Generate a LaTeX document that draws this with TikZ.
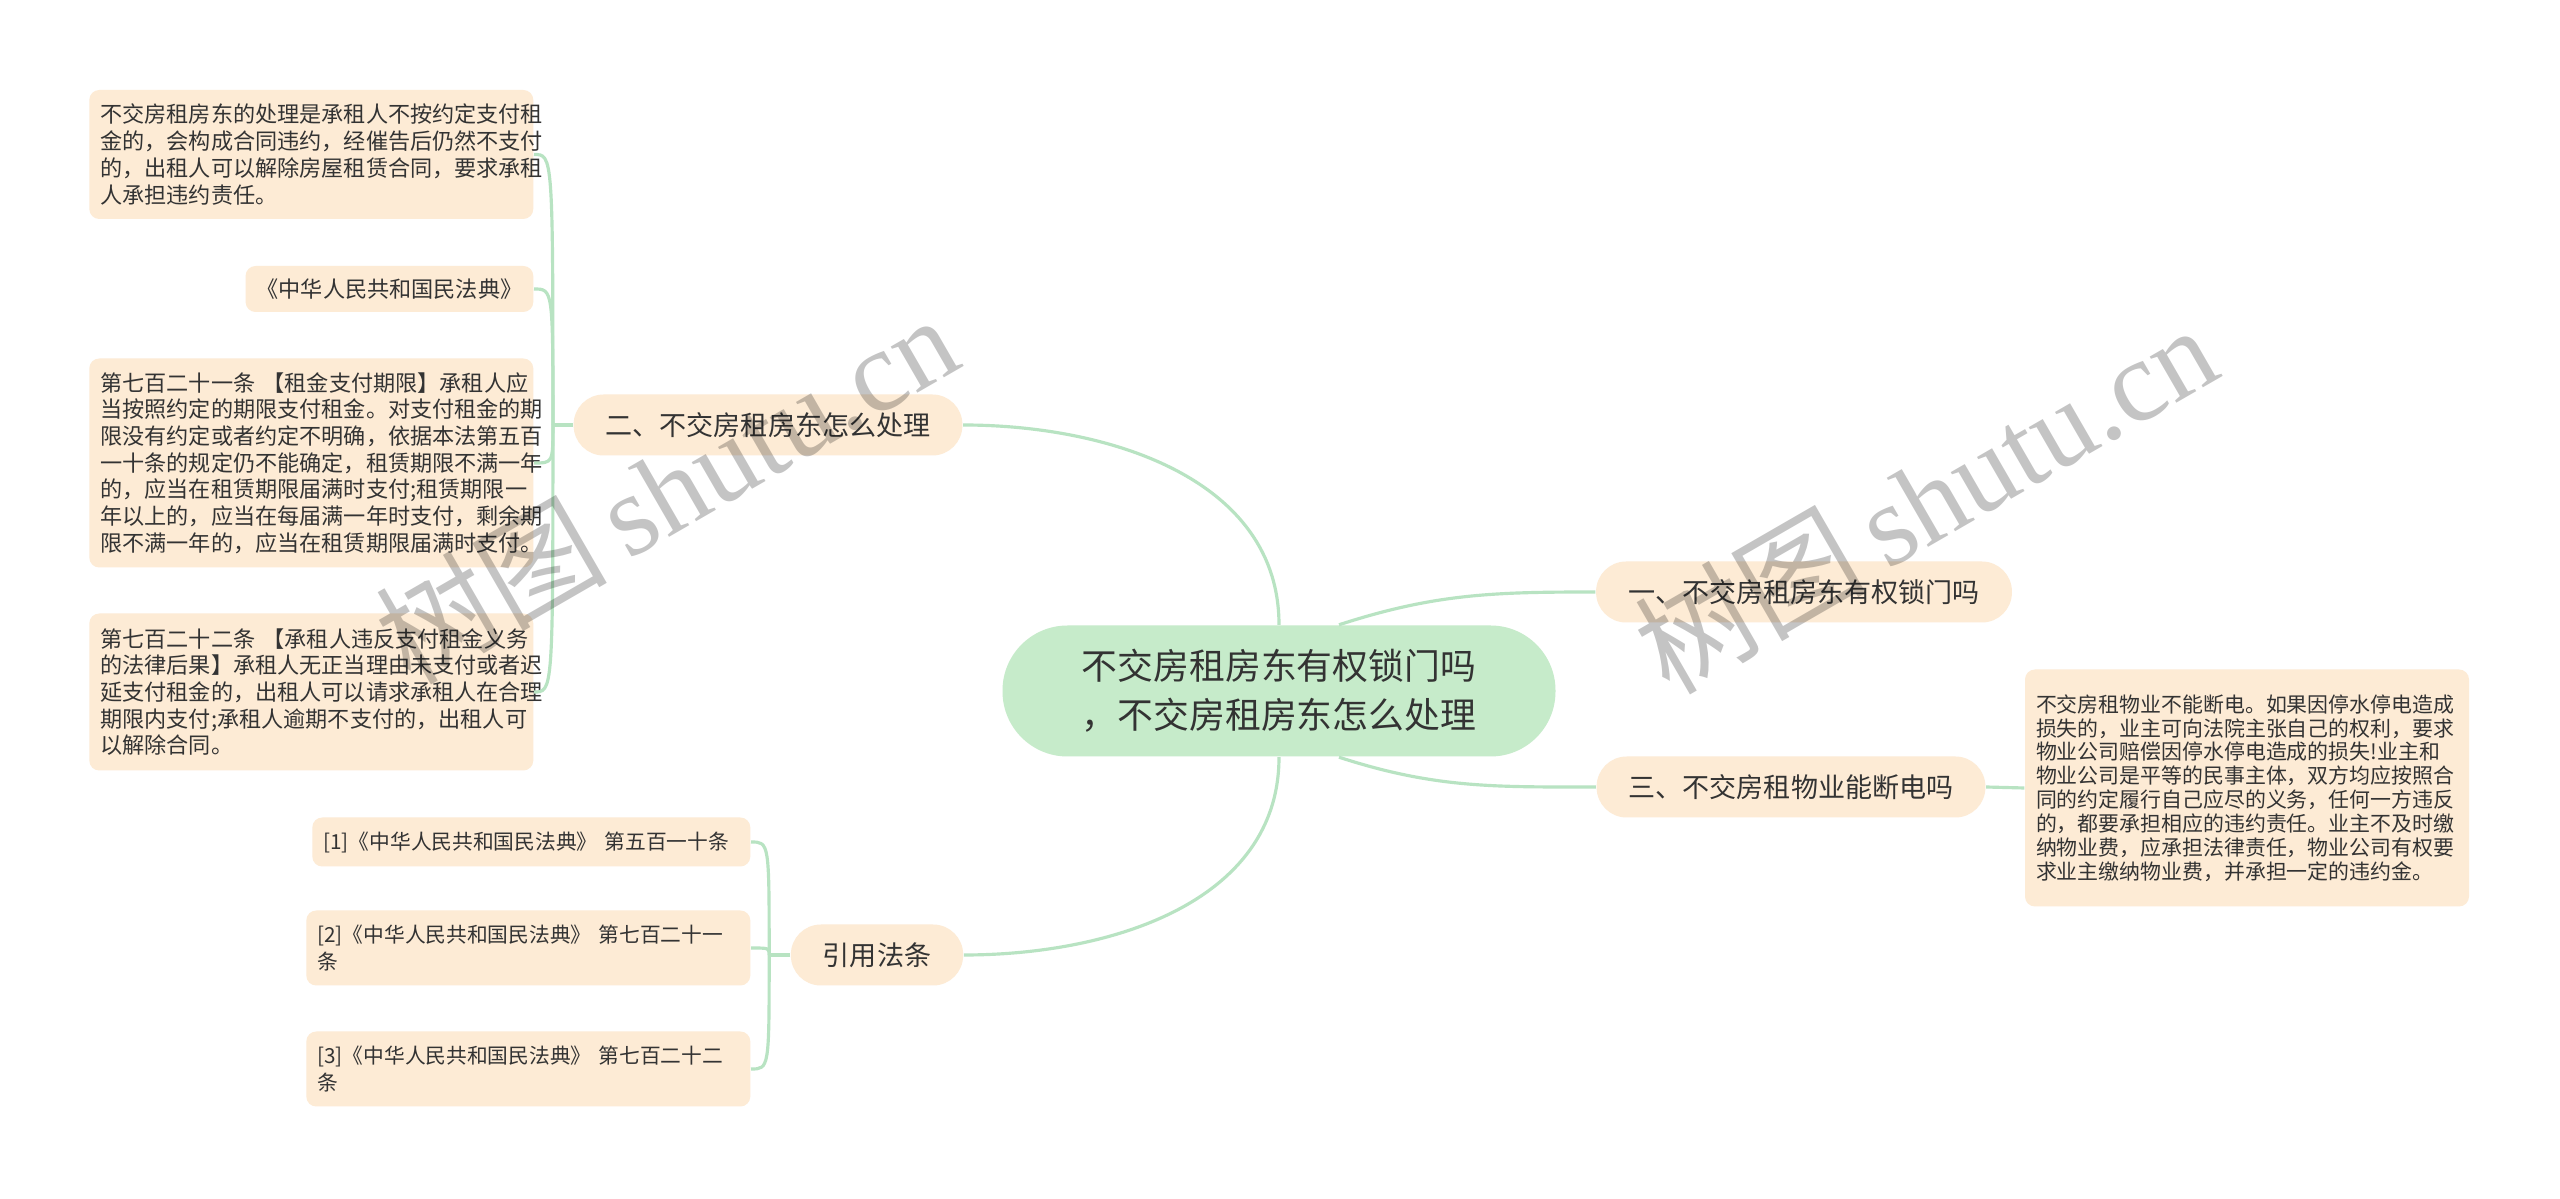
\documentclass[tikz,border=0pt]{standalone}
\usepackage{fontspec}
\setmainfont{Noto Sans CJK SC}
\newfontfamily\wmfont{Liberation Serif}
\usepackage{xcolor}
\usetikzlibrary{calc}

\definecolor{leafc}{HTML}{FDEBD5}
\definecolor{rootc}{HTML}{C6EBCA}
\definecolor{linkc}{HTML}{B8E3C2}
\definecolor{txtc}{HTML}{333333}
\newcommand{\rootfont}{\fontsize{10.2}{13.9}\selectfont}
\newcommand{\branchfont}{\fontsize{7.7}{9}\selectfont}
\newcommand{\leaffont}{\fontsize{6.3}{7.6}\selectfont}
\newcommand{\citefont}{\fontsize{5.9}{7.6}\selectfont}
\newcommand{\smallleaffont}{\fontsize{5.95}{6.8}\selectfont}

\begin{document}
\begin{tikzpicture}[
  every node/.style={text=txtc},
  root/.style={fill=rootc,rounded corners=0.65cm,minimum width=5.53cm,minimum height=1.31cm,align=center,font=\rootfont},
  branch/.style={fill=leafc,rounded corners=0.3cm,minimum height=0.61cm,inner xsep=0.32cm,font=\branchfont},
  leaf/.style={fill=leafc,rounded corners=0.1cm,inner xsep=0.11cm,inner ysep=0.06cm,align=left,text width=4.22cm,font=\leaffont},
  link/.style={draw=linkc,line width=0.9pt},
  mark text/.style={text=black,text opacity=0.23,font=\fontsize{33}{33}\selectfont,rotate=30}
]
  \fill[white] (0,0) rectangle (25.6,-11.99);
  \useasboundingbox (0,0) rectangle (25.6,-11.99);

  % centro e rami
  \node[root] (root) at (12.79,-6.91) {不交房租房东有权锁门吗\\，不交房租房东怎么处理};
  \node[branch] (b1) at (18.04,-5.92) {一、不交房租房东有权锁门吗};
  \node[branch] (b3) at (17.91,-7.87) {三、不交房租物业能断电吗};
  \node[branch] (b2) at (7.68,-4.25) {二、不交房租房东怎么处理};
  \node[branch] (b4) at (8.77,-9.55) {引用法条};

  % foglie a destra
  \node[leaf,font=\smallleaffont,minimum height=2.37cm] (r1) at (22.47,-7.88) {不交房租物业不能断电。如果因停水停电造成\\损失的，业主可向法院主张自己的权利，要求\\物业公司赔偿因停水停电造成的损失!业主和\\物业公司是平等的民事主体，双方均应按照合\\同的约定履行自己应尽的义务，任何一方违反\\的，都要承担相应的违约责任。业主不及时缴\\纳物业费，应承担法律责任，物业公司有权要\\求业主缴纳物业费，并承担一定的违约金。};

  % foglie a sinistra
  \node[leaf,anchor=east,minimum height=1.29cm] (l1) at (5.34,-1.545) {不交房租房东的处理是承租人不按约定支付租\\金的，会构成合同违约，经催告后仍然不支付\\的，出租人可以解除房屋租赁合同，要求承租\\人承担违约责任。};
  \node[leaf,anchor=east,text width=,minimum height=0.46cm] (l2) at (5.34,-2.89) {《中华人民共和国民法典》};
  \node[leaf,anchor=east,minimum height=2.09cm] (l3) at (5.34,-4.63) {第七百二十一条~【租金支付期限】承租人应\\当按照约定的期限支付租金。对支付租金的期\\限没有约定或者约定不明确，依据本法第五百\\一十条的规定仍不能确定，租赁期限不满一年\\的，应当在租赁期限届满时支付;租赁期限一\\年以上的，应当在每届满一年时支付，剩余期\\限不满一年的，应当在租赁期限届满时支付。};
  \node[leaf,anchor=east,minimum height=1.57cm] (l4) at (5.34,-6.92) {第七百二十二条~【承租人违反支付租金义务\\的法律后果】承租人无正当理由未支付或者迟\\延支付租金的，出租人可以请求承租人在合理\\期限内支付;承租人逾期不支付的，出租人可\\以解除合同。};

  % citazioni
  \node[leaf,anchor=east,font=\citefont,text width=4.16cm,minimum height=0.49cm] (c1) at (7.51,-8.42) {[1]《中华人民共和国民法典》~第五百一十条};
  \node[leaf,anchor=east,font=\citefont,minimum height=0.75cm] (c2) at (7.51,-9.48) {[2]《中华人民共和国民法典》~第七百二十一\\条};
  \node[leaf,anchor=east,font=\citefont,minimum height=0.75cm] (c3) at (7.51,-10.69) {[3]《中华人民共和国民法典》~第七百二十二\\条};

  % collegamenti
  \draw[link] (root.north) to[out=90,in=0] (b2.east);
  \draw[link] (root.south) to[out=-90,in=0] (b4.east);
  \draw[link] ($(root.north)+(0.6,0)$) to[out=18,in=180] (b1.west);
  \draw[link] ($(root.south)+(0.6,0)$) to[out=-18,in=180] (b3.west);
  \draw[link] (b3.east) -- (r1.west);
  \draw[link] (b2.west) -- ++(-0.2,0) coordinate (s2);
  \foreach \c in {l1,l2,l3,l4}
    \draw[link] (s2) .. controls (s2 |- \c.east) .. (\c.east);
  \draw[link] (b4.west) -- ++(-0.21,0) coordinate (s4);
  \foreach \c in {c1,c2,c3}
    \draw[link] (s4) .. controls (s4 |- \c.east) .. (\c.east);

  % filigrana
  \node[mark text] (wm1) at (6.66,-4.88) {树图\,{\wmfont shutu.cn}};
  \node[mark text] (wm2) at (19.25,-4.98) {树图\,{\wmfont shutu.cn}};
\end{tikzpicture}
\end{document}
